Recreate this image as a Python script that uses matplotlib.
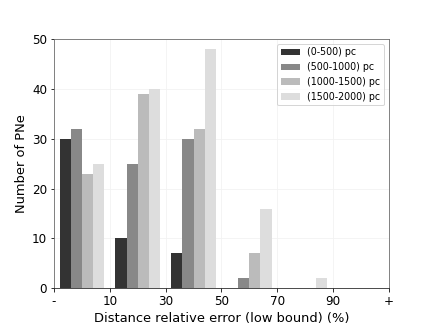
import matplotlib
matplotlib.use("Agg")
import matplotlib.pyplot as plt
import numpy as np

# Distance relative error bins (low bound, %) and counts per distance range
tick_labels = ["-", "10", "30", "50", "70", "90", "+"]
series_labels = ["(0-500) pc", "(500-1000) pc", "(1000-1500) pc", "(1500-2000) pc"]
counts_0_500 = [30, 10, 7, 0, 0, 0]
counts_500_1000 = [32, 25, 30, 2, 0, 0]
counts_1000_1500 = [23, 39, 32, 7, 0, 0]
counts_1500_2000 = [25, 40, 48, 16, 2, 0]
colors = ["#333333", "#888888", "#bbbbbb", "#dddddd"]

fig, ax = plt.subplots(figsize=(6, 4.5), dpi=72)

series = [counts_0_500, counts_500_1000, counts_1000_1500, counts_1500_2000]
n_bins = len(counts_0_500)
width = 0.2
x0 = np.arange(n_bins) + 0.1
for i, (vals, color, label) in enumerate(zip(series, colors, series_labels)):
    ax.bar(x0 + i * width, vals, width=width, align="edge", color=color,
           label=label, zorder=2)

ax.set_xlim(0, n_bins)
ax.set_ylim(0, 50)
ax.set_xticks(np.arange(len(tick_labels)))
ax.set_xticklabels(tick_labels)
ax.set_yticks(np.arange(0, 51, 10))
ax.tick_params(labelsize=12)
ax.grid(True, color="#f2f2f2", linewidth=0.8, zorder=0)

for side in ["top", "right", "left"]:
    ax.spines[side].set_color("#666666")
ax.spines["bottom"].set_color("#222222")

ax.set_xlabel("Distance relative error (low bound) (%)", fontsize=13)
ax.set_ylabel("Number of PNe", fontsize=13)
ax.legend(loc="upper right", fontsize=9.5, frameon=True, handlelength=2.0)

plt.savefig("out.png", dpi=72)
